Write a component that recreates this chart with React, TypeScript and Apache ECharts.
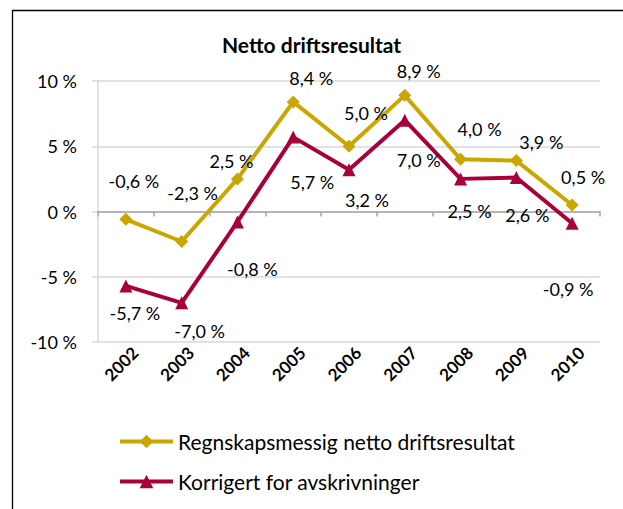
import React, { useEffect, useRef } from "react";
import * as echarts from "echarts";

const years = ["2002", "2003", "2004", "2005", "2006", "2007", "2008", "2009", "2010"];
const regnskap = [-0.6, -2.3, 2.5, 8.4, 5.0, 8.9, 4.0, 3.9, 0.5];
const korrigert = [-5.7, -7.0, -0.8, 5.7, 3.2, 7.0, 2.5, 2.6, -0.9];
const yTicks = [-10, -5, 0, 5, 10];

// label offsets (style only), [dx, dy] from the marker centre
const regnskapLabelOffsets = [[8, -38], [11, -49], [-6, -18], [18, -24], [17, -33], [14, -24], [19, -30], [25, -19], [11, -28]];
const korrigertLabelOffsets = [[9, 27], [18, 28], [15, 47], [19, 45], [18, 30], [14, 40], [9, 32], [11, 37], [-4, 66]];

const GOLD = "#C9A600";
const RED = "#A8003A";
const FONT = "Lato, 'Open Sans', sans-serif";

const fmt = (v: number) => v.toFixed(1).replace(".", ",") + " %";

export default function App() {
  const ref = useRef<HTMLDivElement>(null);
  useEffect(() => {
    document.body.style.margin = "0";
    const chart = echarts.init(ref.current!, undefined, { renderer: "svg" });
    const mk = (vals: number[], offs: number[][]) =>
      vals.map((v, i) => ({ value: v, label: { offset: offs[i] } }));
    const labelStyle = {
      show: true,
      position: "inside",
      formatter: (p: any) => fmt(p.value),
      fontFamily: FONT,
      fontSize: 18,
      color: "#000",
    };
    chart.setOption({
      animation: false,
      backgroundColor: "#fff",
      textStyle: { fontFamily: FONT },
      title: {
        text: "Netto driftsresultat",
        left: "center",
        top: 34,
        padding: 0,
        textStyle: { fontFamily: FONT, fontWeight: "bold", fontSize: 21, color: "#000" },
      },
      graphic: [
        {
          type: "rect",
          shape: { x: 12.5, y: 10.5, width: 700, height: 600 },
          style: { fill: "none", stroke: "#000", lineWidth: 1.3 },
          silent: true,
        },
      ],
      grid: { left: 98, right: 23, top: 81, bottom: 167, containLabel: false },
      xAxis: [
        {
          type: "category",
          data: years,
          boundaryGap: true,
          axisLine: { onZero: true, lineStyle: { color: "#A6A6A6", width: 1.5 } },
          axisTick: { show: true, length: 5, lineStyle: { color: "#A6A6A6", width: 1.5 } },
          axisLabel: { show: false },
          z: 3,
        },
        {
          type: "category",
          data: years,
          position: "bottom",
          boundaryGap: true,
          axisLine: { show: false, onZero: false },
          axisTick: { show: false },
          axisLabel: {
            show: true,
            rotate: 45,
            margin: 17,
            padding: [0, -13, 0, 0],
            fontFamily: FONT,
            fontWeight: "bold",
            fontSize: 17,
            color: "#000",
          },
        },
      ],
      yAxis: {
        type: "value",
        min: yTicks[0],
        max: yTicks[yTicks.length - 1],
        interval: 5,
        axisLine: { show: true, lineStyle: { color: "#D9D9D9", width: 1.5 } },
        axisTick: { show: true, length: 6, lineStyle: { color: "#D9D9D9", width: 1.5 } },
        splitLine: { show: true, lineStyle: { color: "#D9D9D9", width: 1.5 } },
        axisLabel: {
          formatter: (v: number) => `${v} %`,
          fontFamily: FONT,
          fontSize: 18,
          color: "#000",
          margin: 21,
        },
      },
      legend: {
        orient: "vertical",
        left: 118,
        top: 431,
        padding: 0,
        itemWidth: 53,
        itemHeight: 17,
        itemGap: 19,
        lineStyle: { width: 4 },
        textStyle: { fontFamily: FONT, fontSize: 21, color: "#000" },
        data: ["Regnskapsmessig netto driftsresultat", "Korrigert for avskrivninger"],
      },
      series: [
        {
          name: "Regnskapsmessig netto driftsresultat",
          type: "line",
          xAxisIndex: 0,
          data: mk(regnskap, regnskapLabelOffsets),
          symbol: "diamond",
          symbolSize: 13,
          lineStyle: { color: GOLD, width: 4 },
          itemStyle: { color: GOLD },
          label: labelStyle,
          z: 4,
        },
        {
          name: "Korrigert for avskrivninger",
          type: "line",
          xAxisIndex: 0,
          data: mk(korrigert, korrigertLabelOffsets),
          symbol: "triangle",
          symbolSize: 13,
          lineStyle: { color: RED, width: 4 },
          itemStyle: { color: RED },
          label: labelStyle,
          z: 5,
        },
      ],
    });
    return () => chart.dispose();
  }, []);
  return <div ref={ref} style={{ width: 623, height: 509 }} />;
}
